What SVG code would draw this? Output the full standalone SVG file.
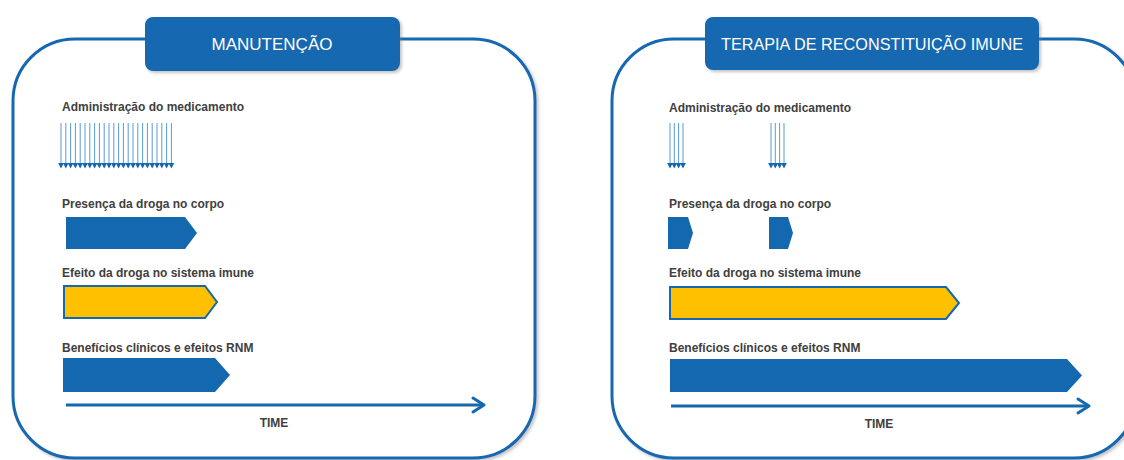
<svg xmlns="http://www.w3.org/2000/svg" width="1124" height="460" viewBox="0 0 1124 460">
<style>
.panel{fill:#ffffff;stroke:#1368B0;stroke-width:3;filter:url(#sh)}
.tbox{fill:#1368B0;filter:url(#sh)}
.title{font-family:"Liberation Sans",Arial,sans-serif;font-size:17px;fill:#ffffff;text-anchor:middle}
.lbl{font-family:"Liberation Sans",Arial,sans-serif;font-size:12px;font-weight:bold;fill:#404040}
.time{font-family:"Liberation Sans",Arial,sans-serif;font-size:12px;font-weight:bold;fill:#404040;text-anchor:middle}
.blue{fill:#1368B0}
.yel{fill:#FFC000;stroke:#1368B0;stroke-width:2}
.axis{stroke:#1368B0;stroke-width:3;fill:none}
.head{stroke:#1368B0;stroke-width:3;fill:none;stroke-linecap:round;stroke-linejoin:round}
</style>
<defs>
<filter id="sh" x="-10%" y="-10%" width="120%" height="120%">
<feDropShadow dx="2" dy="2" stdDeviation="1.5" flood-color="#7f7f7f" flood-opacity="0.45"/>
</filter>
<g id="dose">
<line x1="0" y1="0" x2="0" y2="41" stroke="#5B9BD5" stroke-width="1"/>
<polygon points="-2.9,40 2.9,40 0,45.5" fill="#1368B0"/>
</g>
</defs>
<rect width="1124" height="460" fill="#ffffff"/>

<g id="panel-manutencao">
<rect class="panel" x="13" y="39" width="522" height="419" rx="62" ry="62"/>
</g>
<g id="title-manutencao">
<rect class="tbox" x="145" y="17" width="255" height="54" rx="8"/>
<text class="title" x="272" y="50">MANUTENÇÃO</text>
</g>

<g id="panel-terapia">
<rect class="panel" x="612" y="39" width="524" height="419" rx="62" ry="62"/>
</g>
<g id="title-terapia">
<rect class="tbox" x="705" y="17" width="334" height="53" rx="8"/>
<text class="title" x="872" y="50" textLength="302" lengthAdjust="spacingAndGlyphs">TERAPIA DE RECONSTITUIÇÃO IMUNE</text>
</g>

<g id="left-admin">
<text class="lbl" x="62" y="111">Administração do medicamento</text>
<use href="#dose" x="61" y="123"/><use href="#dose" x="65.8" y="123"/><use href="#dose" x="70.6" y="123"/><use href="#dose" x="75.4" y="123"/>
<use href="#dose" x="80.2" y="123"/><use href="#dose" x="85" y="123"/><use href="#dose" x="89.8" y="123"/><use href="#dose" x="94.6" y="123"/>
<use href="#dose" x="99.4" y="123"/><use href="#dose" x="104.2" y="123"/><use href="#dose" x="109" y="123"/><use href="#dose" x="113.8" y="123"/>
<use href="#dose" x="118.6" y="123"/><use href="#dose" x="123.4" y="123"/><use href="#dose" x="128.2" y="123"/><use href="#dose" x="133" y="123"/>
<use href="#dose" x="137.8" y="123"/><use href="#dose" x="142.6" y="123"/><use href="#dose" x="147.4" y="123"/><use href="#dose" x="152.2" y="123"/>
<use href="#dose" x="157" y="123"/><use href="#dose" x="161.8" y="123"/><use href="#dose" x="166.6" y="123"/><use href="#dose" x="171.4" y="123"/>
</g>
<g id="left-presenca">
<text class="lbl" x="62" y="208">Presença da droga no corpo</text>
<polygon class="blue" points="66,217 185,217 197,233 185,249 66,249"/>
</g>
<g id="left-efeito">
<text class="lbl" x="62" y="277">Efeito da droga no sistema imune</text>
<polygon class="yel" points="64,286 205,286 217,302 205,318 64,318"/>
</g>
<g id="left-beneficios">
<text class="lbl" x="62" y="352">Benefícios clínicos e efeitos RNM</text>
<polygon class="blue" points="63,358 215,358 230,375 215,392 63,392"/>
</g>

<g id="right-admin">
<text class="lbl" x="669" y="112">Administração do medicamento</text>
<use href="#dose" x="670" y="123"/><use href="#dose" x="674.3" y="123"/><use href="#dose" x="678.6" y="123"/><use href="#dose" x="683" y="123"/>
<use href="#dose" x="771" y="123"/><use href="#dose" x="775.3" y="123"/><use href="#dose" x="779.6" y="123"/><use href="#dose" x="784" y="123"/>
</g>
<g id="right-presenca">
<text class="lbl" x="669" y="208">Presença da droga no corpo</text>
<polygon class="blue" points="668,217 688,217 693,233 688,249 668,249"/>
<polygon class="blue" points="769,217 788,217 793,233 788,249 769,249"/>
</g>
<g id="right-efeito">
<text class="lbl" x="669" y="277">Efeito da droga no sistema imune</text>
<polygon class="yel" points="670,287 946,287 959,303 946,319 670,319"/>
</g>
<g id="right-beneficios">
<text class="lbl" x="669" y="352">Benefícios clínicos e efeitos RNM</text>
<polygon class="blue" points="670,359 1067,359 1082,375.5 1067,392 670,392"/>
</g>

<g id="connectors">
<line class="axis" x1="66" y1="405" x2="483" y2="405"/>
<polyline class="head" points="473,398 484,405 473,412"/>
<line class="axis" x1="671" y1="406" x2="1088" y2="406"/>
<polyline class="head" points="1078,399 1089,406 1078,413"/>
</g>
<text class="time" x="274" y="427">TIME</text>
<text class="time" x="879" y="428">TIME</text>
</svg>
